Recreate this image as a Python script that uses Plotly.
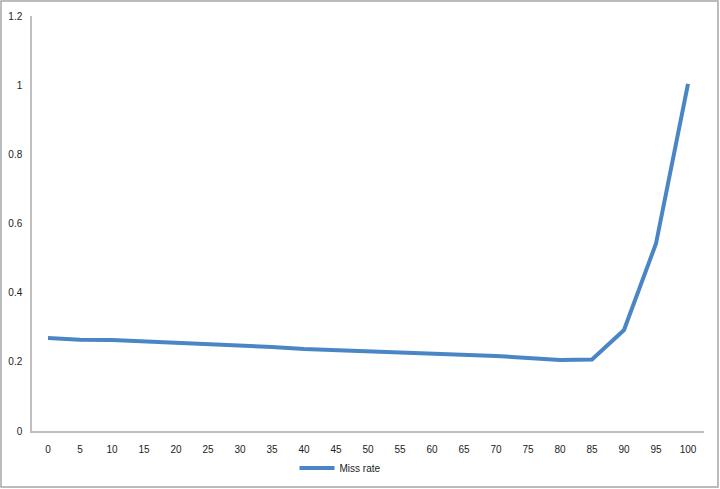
import plotly.graph_objects as go

categories = ["0", "5", "10", "15", "20", "25", "30", "35", "40", "45", "50",
              "55", "60", "65", "70", "75", "80", "85", "90", "95", "100"]
miss_rate = [0.269, 0.264, 0.263, 0.259, 0.256, 0.252, 0.246, 0.243, 0.237, 0.234, 0.231,
             0.228, 0.225, 0.220, 0.217, 0.211, 0.205, 0.207, 0.292, 0.542, 1.004]
y_ticks = [0, 0.2, 0.4, 0.6, 0.8, 1, 1.2]
y_tick_labels = ["0", "0.2", "0.4", "0.6", "0.8", "1", "1.2"]

fig = go.Figure()
fig.add_trace(go.Scatter(
    x=categories, y=miss_rate, mode="lines", name="Miss rate",
    line=dict(color="#4A86C5", width=4),
))

W, H = 720, 489
L, R, T, B = 32, 16, 16, 58
pw, ph = W - L - R, H - T - B

fig.update_layout(
    width=W, height=H,
    margin=dict(l=L, r=R, t=T, b=B, autoexpand=False),
    paper_bgcolor="white", plot_bgcolor="white",
    font=dict(family="Liberation Sans, Arial, sans-serif", size=10, color="#222222"),
    showlegend=True,
    legend=dict(orientation="h", x=0.5 - 28 / pw, xanchor="center", y=-37 / ph, yanchor="middle",
                font=dict(size=10, color="#222222"), itemwidth=35),
    xaxis=dict(type="category", range=[-0.5, 20.5], showgrid=False, zeroline=False,
               showline=True, linecolor="#BFBFBF", linewidth=1.5, ticks="",
               ticklabelstandoff=8, automargin=False),
    yaxis=dict(range=[0, 1.2], tickvals=y_ticks, ticktext=y_tick_labels, showgrid=False,
               zeroline=False, showline=True, linecolor="#BFBFBF", linewidth=1.5, ticks="",
               ticklabelstandoff=6, automargin=False),
    shapes=[dict(type="rect", xref="paper", yref="paper",
                 x0=(1 - L) / pw, x1=(718 - L) / pw,
                 y0=(T + ph - 487) / ph, y1=(T + ph - 1) / ph,
                 line=dict(color="#A6A6A6", width=1.5), fillcolor="rgba(0,0,0,0)",
                 layer="below")],
)

fig.write_html("out.html", config={"displayModeBar": False},
               post_script="document.body.style.margin='0';document.body.style.overflow='hidden';")
